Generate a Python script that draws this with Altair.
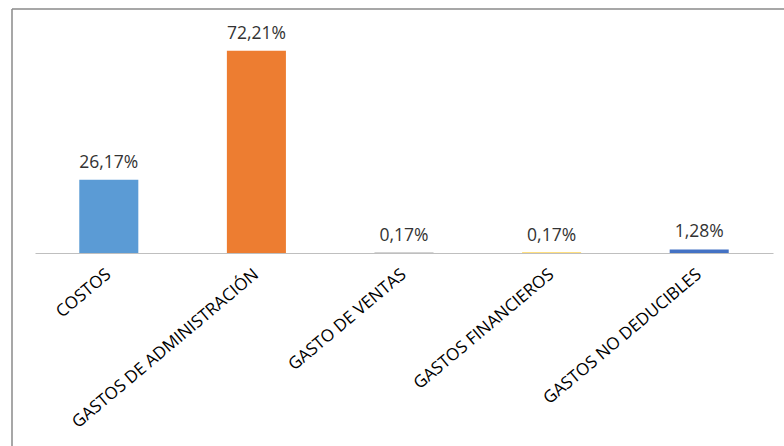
import altair as alt
import pandas as pd

categories = ["COSTOS", "GASTOS DE ADMINISTRACIÓN", "GASTO DE VENTAS",
              "GASTOS FINANCIEROS", "GASTOS NO DEDUCIBLES"]
values = [26.17, 72.21, 0.17, 0.17, 1.28]
colors = ["#5B9BD5", "#ED7D31", "#A5A5A5", "#FFC000", "#4472C4"]
labels = [f"{v:.2f}%".replace(".", ",") for v in values]

df = pd.DataFrame({"cat": categories, "val": values, "label": labels})

FONT = "Open Sans"

x = alt.X("cat:N", sort=categories,
          scale=alt.Scale(paddingInner=0.6, paddingOuter=0.3),
          axis=alt.Axis(title=None, labelAngle=-40, labelAlign="right",
                        labelBaseline="middle", labelFont=FONT, labelFontSize=17,
                        labelColor="#000000", ticks=False, domainColor="#BFBFBF",
                        domainWidth=1, labelPadding=19, labelLimit=0))
y = alt.Y("val:Q", scale=alt.Scale(domain=[0, 80]), axis=None)

bars = alt.Chart(df).mark_bar().encode(
    x=x, y=y,
    color=alt.Color("cat:N", scale=alt.Scale(domain=categories, range=colors), legend=None),
)

text = alt.Chart(df).mark_text(dy=-12, baseline="alphabetic", font=FONT,
                               fontSize=17.5, color="#333333").encode(
    x=alt.X("cat:N", sort=categories), y="val:Q", text="label:N")

frame_df = pd.DataFrame({"k": [0]})
top_line = alt.Chart(frame_df).mark_rule(color="#8A8A8A", strokeWidth=1.5).encode(
    x=alt.value(-23), x2=alt.value(760), y=alt.value(-20))
left_line = alt.Chart(frame_df).mark_rule(color="#8A8A8A", strokeWidth=1.5).encode(
    x=alt.value(-23), y=alt.value(-20), y2=alt.value(430))

chart = alt.layer(bars, text, top_line, left_line).properties(
    width=738, height=224,
    autosize=alt.AutoSizeParams(type="none"),
    padding={"left": 35, "top": 29, "right": 11, "bottom": 193},
).configure_view(stroke=None)

chart.save("out.html", embed_options={"renderer": "svg", "actions": False})
